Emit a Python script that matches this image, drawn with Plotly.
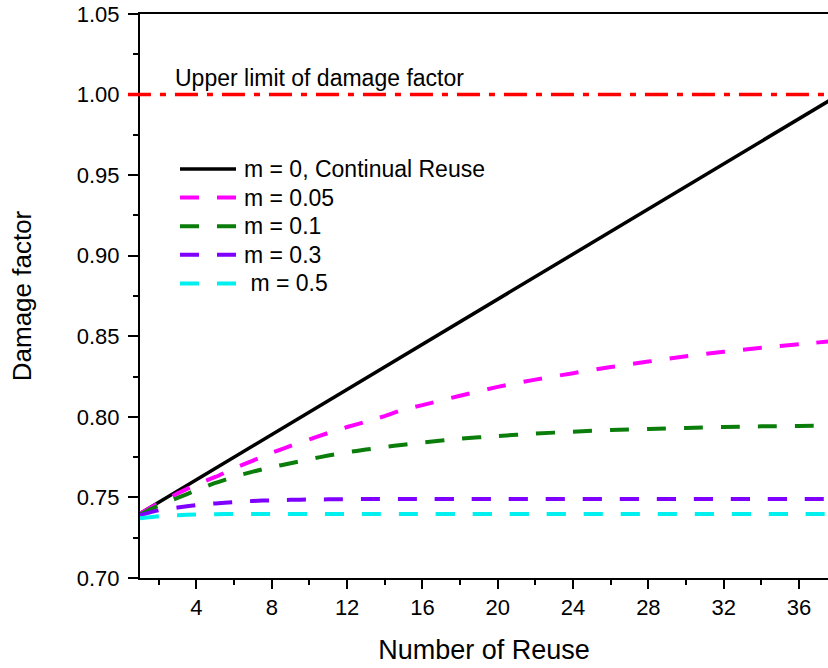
import plotly.graph_objects as go

# ---- data ----
reuse_black = [1, 10, 20, 30, 38]
damage_m0 = [0.740, 0.803, 0.873, 0.943, 0.999]

reuse = [1, 2, 3, 4, 5, 6, 7, 8, 9, 10, 11, 12, 13, 14, 15, 16, 18, 20, 22, 24,
         26, 28, 30, 32, 34, 36, 38]
damage_m005 = [0.7400, 0.7465, 0.7525, 0.7580, 0.7627, 0.7680, 0.7729, 0.7777,
               0.7820, 0.7860, 0.7900, 0.7937, 0.7970, 0.8005, 0.8045, 0.8073,
               0.8131, 0.8186, 0.8231, 0.8271, 0.8309, 0.8343, 0.8376, 0.8404,
               0.8429, 0.8451, 0.8472]
damage_m01 = [0.7395, 0.7450, 0.7497, 0.7545, 0.7590, 0.7628, 0.7660, 0.7688,
              0.7712, 0.7737, 0.7760, 0.7780, 0.7797, 0.7813, 0.7827, 0.7841,
              0.7864, 0.7881, 0.7896, 0.7908, 0.7918, 0.7925, 0.7931, 0.7937,
              0.7941, 0.7944, 0.7946]
damage_m03 = [0.7390, 0.7420, 0.7437, 0.7452, 0.7463, 0.7471, 0.7478, 0.7482,
              0.7485, 0.7487, 0.7488, 0.7489, 0.7490, 0.7490, 0.7490, 0.7490,
              0.7490, 0.7490, 0.7490, 0.7490, 0.7490, 0.7490, 0.7490, 0.7490,
              0.7490, 0.7490, 0.7490]
damage_m05 = [0.7370, 0.7383, 0.7390, 0.7394, 0.7396, 0.7397, 0.7397, 0.7397,
              0.7397, 0.7397, 0.7397, 0.7397, 0.7397, 0.7397, 0.7397, 0.7397,
              0.7397, 0.7397, 0.7397, 0.7397, 0.7397, 0.7397, 0.7397, 0.7397,
              0.7397, 0.7397, 0.7397]

upper_limit = 1.0
upper_label = "Upper limit of damage factor"
legend_names = ["m = 0, Continual Reuse", "m = 0.05", "m = 0.1", "m = 0.3",
                "\u00a0m = 0.5"]
x_ticks = [4, 8, 12, 16, 20, 24, 28, 32, 36]
y_ticks = [0.70, 0.75, 0.80, 0.85, 0.90, 0.95, 1.00, 1.05]

# ---- styling / layout ----
FONT = "Liberation Sans, Arial, sans-serif"
DASH = "19px,18px"
W, H = 828, 668
ML, MR, MT, MB = 140, 0, 14, 90
PW, PH = W - ML - MR, H - MT - MB

colors = ["black", "#FF00FF", "#0B7D0B", "#7F00FF", "#00F0F0"]
dashes = ["solid", DASH, DASH, DASH, DASH]
widths = [3.5, 4, 4, 4, 4]

fig = go.Figure()
fig.add_trace(go.Scatter(x=reuse_black, y=damage_m0, mode="lines",
                         name=legend_names[0], showlegend=False,
                         line=dict(color=colors[0], width=widths[0])))
for i, vals in enumerate([damage_m005, damage_m01, damage_m03, damage_m05]):
    fig.add_trace(go.Scatter(x=reuse, y=vals, mode="lines",
                             name=legend_names[i + 1], showlegend=False,
                             line=dict(color=colors[i + 1], width=widths[i + 1],
                                       dash=dashes[i + 1],
                                       shape="spline", smoothing=0.6)))

# upper-limit reference line
fig.add_shape(type="line", xref="paper", yref="y", x0=-0.0175, x1=1,
              y0=upper_limit, y1=upper_limit,
              line=dict(color="#FF0000", width=3.5, dash="23px,9px,6px,9px"))
fig.add_annotation(text=upper_label, xref="paper", yref="y",
                   x=(173 - ML) / PW, y=upper_limit, xanchor="left",
                   yanchor="bottom", yshift=2, showarrow=False,
                   font=dict(family=FONT, size=23, color="black"))

# legend (drawn as shapes + text, inside plot)
leg_x0, leg_x1, leg_tx = 180, 236, 242
leg_y0, leg_dy = 169, 28.6
for i, name in enumerate(legend_names):
    py = (MT + PH - (leg_y0 + i * leg_dy)) / PH
    fig.add_shape(type="line", xref="paper", yref="paper",
                  x0=(leg_x0 - ML) / PW, x1=(leg_x1 - ML) / PW, y0=py, y1=py,
                  line=dict(color=colors[i], width=widths[i], dash=dashes[i]))
    fig.add_annotation(text=name, xref="paper", yref="paper",
                       x=(leg_tx - ML) / PW, y=py, xanchor="left",
                       yanchor="middle", showarrow=False,
                       font=dict(family=FONT, size=23, color="black"))

fig.update_layout(
    width=W, height=H,
    margin=dict(l=ML, r=MR, t=MT, b=MB),
    paper_bgcolor="white", plot_bgcolor="white",
    font=dict(family=FONT, color="black"),
    showlegend=False,
    xaxis=dict(range=[1, 37.54], tickmode="array", tickvals=x_ticks,
               showgrid=False, zeroline=False,
               showline=True, linecolor="black", linewidth=2, mirror=True,
               ticks="outside", ticklen=9, tickwidth=2, tickcolor="black",
               minor=dict(dtick=2, tick0=0, ticks="outside", ticklen=5,
                          tickwidth=2, tickcolor="black", showgrid=False),
               tickfont=dict(family=FONT, size=22),
               title=dict(text="Number of Reuse",
                          font=dict(family=FONT, size=27), standoff=21)),
    yaxis=dict(range=[0.70, 1.05], tickmode="array", tickvals=y_ticks,
               tickformat=".2f", ticklabelstandoff=4,
               showgrid=False, zeroline=False,
               showline=True, linecolor="black", linewidth=2,
               ticks="outside", ticklen=10, tickwidth=2, tickcolor="black",
               minor=dict(dtick=0.025, tick0=0.7, ticks="outside", ticklen=5,
                          tickwidth=2, tickcolor="black", showgrid=False),
               tickfont=dict(family=FONT, size=22),
               title=dict(text="Damage factor",
                          font=dict(family=FONT, size=26), standoff=38)),
)

fig.write_html(
    "out.html",
    config={"displayModeBar": False},
    post_script="document.body.style.margin='0';"
                "document.body.style.overflow='hidden';"
                "document.documentElement.style.overflow='hidden';",
)
